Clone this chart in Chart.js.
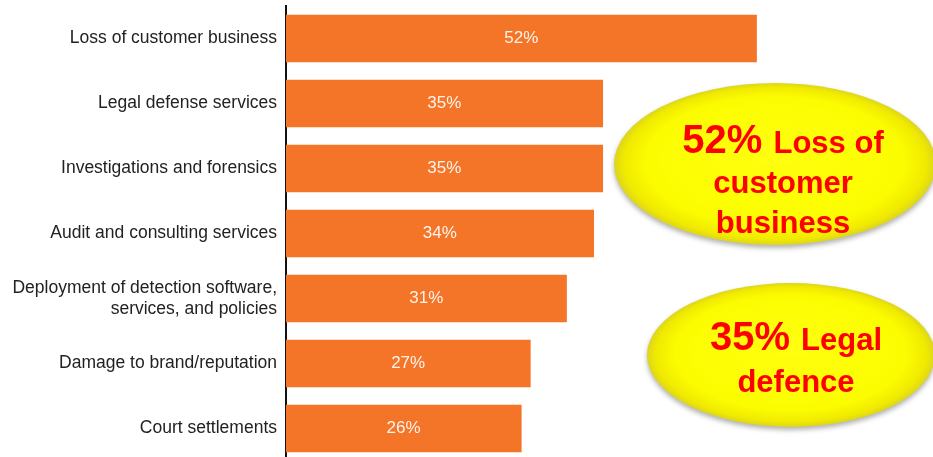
<!DOCTYPE html>
<html>
<head>
<meta charset="utf-8">
<script src="https://cdn.jsdelivr.net/npm/chart.js@4/dist/chart.umd.min.js"></script>
<style>
  html, body { margin: 0; padding: 0; background: #fff; overflow: hidden; }
  #wrap { position: relative; width: 933px; height: 462px; }
</style>
</head>
<body>
<div id="wrap"><canvas id="costChart"></canvas></div>
<script>
// Cost drivers after a breach, share of respondents (%)

const categories = [
  'Loss of customer business',
  'Legal defense services',
  'Investigations and forensics',
  'Audit and consulting services',
  ['Deployment of detection software,', 'services, and policies'],
  'Damage to brand/reputation',
  'Court settlements'
]
const values = [52, 35, 35, 34, 31, 27, 26]

// Callout bubbles: first line is "<value>% <word>", rest are plain lines
const calloutIndex = [0, 1]
const calloutWords = [
  ['Loss of', 'customer', 'business'],
  ['Legal', 'defence']
]

const BAR_COLOR = '#f47428'

// Value text centred inside every bar
const barValuePlugin = {
  id: 'barValues',
  afterDatasetsDraw(chart)
  {
    const ctx  = chart.ctx
    const meta = chart.getDatasetMeta(0)
    ctx.save()
    ctx.font         = '17px "Liberation Sans", Arial, sans-serif'
    ctx.fillStyle    = '#fff4ec'
    ctx.textAlign    = 'center'
    ctx.textBaseline = 'middle'
    meta.data.forEach((bar, i) => {
      const cx = (bar.base + bar.x) / 2
      ctx.fillText(values[i] + '%', cx, bar.y)
    })
    ctx.restore()
  }
}

// Yellow bubbles with the two headline numbers
const bubbleSpecs = [
  { cx: 775, cy: 164, rx: 161, ry: 81, tx: 783, base: 153, step: 40 },
  { cx: 791, cy: 355, rx: 144, ry: 72, tx: 796, base: 350, step: 42 }
]

const bubblePlugin = {
  id: 'bubbles',
  afterDraw(chart)
  {
    const ctx = chart.ctx
    bubbleSpecs.forEach((b, k) => {
      ctx.save()
      ctx.shadowColor   = 'rgba(0,0,0,0.3)'
      ctx.shadowBlur    = 5
      ctx.shadowOffsetY = 3
      // squash a circular gradient into the ellipse so the rim shades evenly
      ctx.translate(b.cx, b.cy)
      ctx.scale(1, b.ry / b.rx)
      const g = ctx.createRadialGradient(0, -b.rx * 0.15, 0, 0, 0, b.rx)
      g.addColorStop(0,    '#ffff10')
      g.addColorStop(0.8,  '#fcfc00')
      g.addColorStop(0.94, '#f0ea00')
      g.addColorStop(1,    '#dcd520')
      ctx.fillStyle = g
      ctx.beginPath()
      ctx.arc(0, 0, b.rx, 0, Math.PI * 2)
      ctx.fill()
      ctx.restore()

      const idx   = calloutIndex[k]
      const words = calloutWords[k]
      const num   = values[idx] + '% '
      const big   = 'bold 40px "Liberation Sans", Arial, sans-serif'
      const small = 'bold 31px "Liberation Sans", Arial, sans-serif'

      ctx.save()
      ctx.fillStyle    = '#ff0000'
      ctx.textBaseline = 'alphabetic'
      ctx.textAlign    = 'left'

      ctx.font = big
      const wNum = ctx.measureText(num).width
      ctx.font = small
      const wFirst = ctx.measureText(words[0]).width
      let x = b.tx - (wNum + wFirst) / 2
      ctx.font = big
      ctx.fillText(num, x, b.base)
      ctx.font = small
      ctx.fillText(words[0], x + wNum, b.base)

      ctx.textAlign = 'center'
      words.slice(1).forEach((w, j) => {
        ctx.fillText(w, b.tx, b.base + b.step * (j + 1))
      })
      ctx.restore()
    })
  }
}

new Chart(document.getElementById('costChart'), {
  type: 'bar',
  data: {
    labels: categories,
    datasets: [{
      data:            values,
      backgroundColor: BAR_COLOR,
      borderWidth:     0,
      barThickness:    47
    }]
  },
  options: {
    indexAxis:           'y',
    responsive:          true,
    maintainAspectRatio: false,
    animation:           false,
    layout: { padding: { top: 6, bottom: 1, left: 0, right: 0 } },
    scales: {
      x: {
        min: 0,
        max: 71.5,
        display: false
      },
      y: {
        grid:   { display: false, drawTicks: false },
        border: { display: true, color: '#111', width: 2 },
        ticks: {
          color:   '#222',
          padding: 9,
          font:    { family: '"Liberation Sans", Arial, sans-serif', size: 17.5 }
        },
        afterFit(scale)
        {
          scale.width         = 286
          scale.paddingTop    = 0
          scale.paddingBottom = 0
        }
      }
    },
    plugins: {
      legend:  { display: false },
      tooltip: { enabled: false }
    }
  },
  plugins: [barValuePlugin, bubblePlugin]
})
</script>
</body>
</html>
